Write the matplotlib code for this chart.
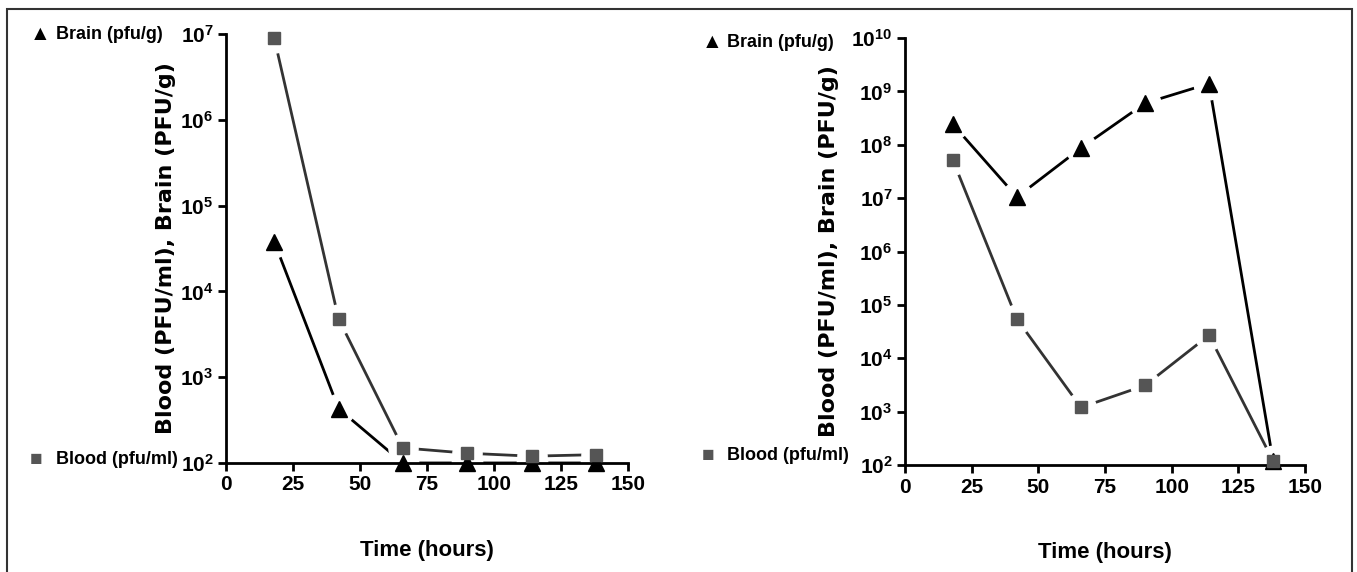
import matplotlib
matplotlib.use("Agg")
import matplotlib.pyplot as plt
from matplotlib.patches import Rectangle

# time points (hours)
hours = [18, 42, 66, 90, 114, 138]

# left panel
left_blood = [9.0e6, 4.8e3, 1.5e2, 1.3e2, 1.2e2, 1.25e2]
left_brain = [3.8e4, 4.3e2, 1.0e2, 1.0e2, 1.0e2, 1.0e2]

# right panel
right_brain = [2.4e8, 1.05e7, 8.7e7, 6.0e8, 1.4e9, 1.2e2]
right_blood = [5.1e7, 5.4e4, 1.2e3, 3.1e3, 2.7e4, 1.2e2]

xticks = [0, 25, 50, 75, 100, 125, 150]
left_exps = [2, 3, 4, 5, 6, 7]
right_exps = [2, 3, 4, 5, 6, 7, 8, 9, 10]

FONT = "Liberation Sans"
plt.rcParams['font.family'] = [FONT, 'DejaVu Sans']
plt.rcParams['mathtext.fontset'] = 'custom'
plt.rcParams['mathtext.rm'] = FONT
plt.rcParams['mathtext.bf'] = FONT + ':bold'

fig = plt.figure(figsize=(13.57, 5.72), dpi=100)

# outer frame
fig.patches.append(Rectangle((0.005, -0.01), 0.991, 0.995, transform=fig.transFigure,
                             fill=False, edgecolor='#333333', linewidth=1.5))


def draw_series(ax, x, y, color, ms):
    # line with white halo so it stops short of each marker
    ax.plot(x, y, color=color, linewidth=2, zorder=2)
    ax.plot(x, y, linestyle='none', marker='o', markersize=ms + 12,
            markerfacecolor='white', markeredgecolor='white', zorder=2.2, clip_on=False)


def setup_panel(rect, blood, brain, exps, ylabel_x, leg_x, leg_top, leg_bot):
    ax = fig.add_axes(rect)
    ax.set_yscale('log')
    draw_series(ax, hours, brain, 'black', 10)
    draw_series(ax, hours, blood, '#333333', 9)
    ax.plot(hours, brain, linestyle='none', marker='^', markersize=11,
            color='black', zorder=4, clip_on=False)
    ax.plot(hours, blood, linestyle='none', marker='s', markersize=9,
            color='#555555', zorder=5, clip_on=False)
    ax.set_xlim(0, 150)
    ax.set_ylim(10.0 ** exps[0], 10.0 ** exps[-1])
    ax.set_xticks(xticks)
    ax.set_xticklabels([str(t) for t in xticks], fontsize=15, fontweight='bold')
    ax.set_yticks([10.0 ** e for e in exps])
    ax.set_yticklabels([r'$\mathbf{10^{%d}}$' % e for e in exps], fontsize=15)
    ax.minorticks_off()
    for s in ['top', 'right']:
        ax.spines[s].set_visible(False)
    for s in ['left', 'bottom']:
        ax.spines[s].set_linewidth(2)
        ax.spines[s].set_zorder(3)
    ax.tick_params(direction='out', length=6, width=2, pad=3)
    ax.set_xlabel('Time (hours)', fontsize=16, fontweight='bold', labelpad=33)
    fig.text(ylabel_x, rect[1] + rect[3] / 2, 'Blood (PFU/ml), Brain (PFU/g)',
             rotation=90, ha='center', va='center', fontsize=16,
             fontweight='bold', family='DejaVu Sans')
    fig.text(leg_x, leg_top, u'\u25B2', fontsize=15, va='center')
    fig.text(leg_x + 0.019, leg_top, 'Brain (pfu/g)', fontsize=13,
             fontweight='bold', va='center')
    fig.text(leg_x, leg_bot, u'\u25A0', fontsize=15, va='center', color='#555555')
    fig.text(leg_x + 0.019, leg_bot, 'Blood (pfu/ml)', fontsize=13,
             fontweight='bold', va='center')
    return ax


setup_panel([0.1665, 0.1906, 0.2963, 0.75], left_blood, left_brain, left_exps,
            0.122, 0.022, 0.940, 0.197)
setup_panel([0.6669, 0.187, 0.2948, 0.7465], right_blood, right_brain, right_exps,
            0.611, 0.517, 0.926, 0.203)

fig.savefig('out.png', dpi=100)
